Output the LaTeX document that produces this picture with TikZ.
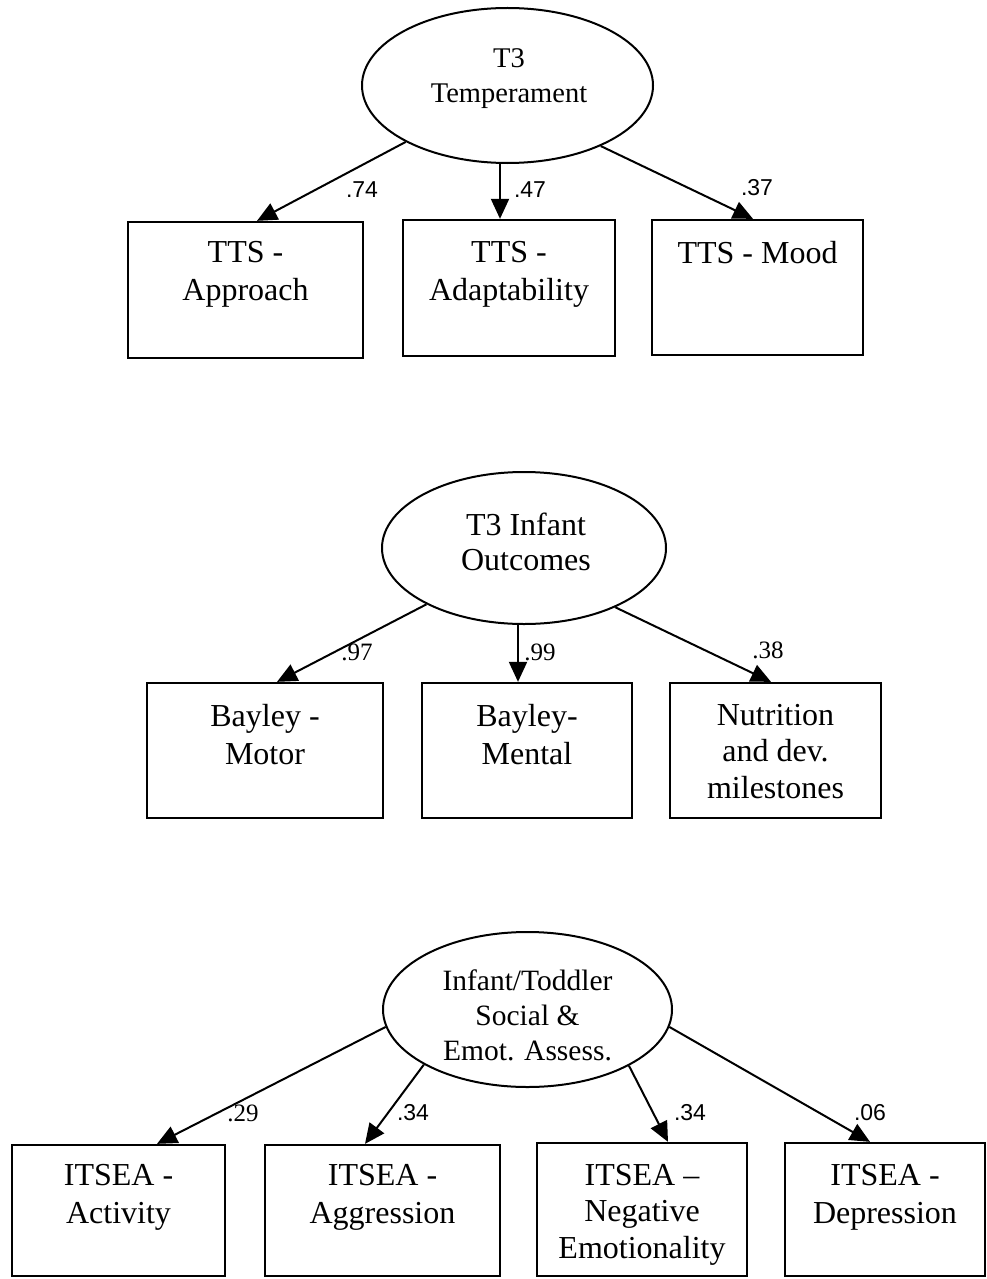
\documentclass[tikz,border=0pt]{standalone}
\usepackage{fontspec}
\setmainfont{Liberation Serif}
\newfontfamily\labsans{Liberation Sans}
\usetikzlibrary{shapes.geometric,arrows.meta}
\begin{document}
\begin{tikzpicture}[x=1pt,y=-1pt,
  ell/.style={draw, line width=2pt, ellipse, inner sep=0pt},
  boxnode/.style={draw, line width=2.3pt, rectangle, inner sep=0pt},
  btxt/.style={anchor=north, inner sep=0pt, align=center, font=\fontsize{32}{38}\selectfont},
  etxt/.style={anchor=north, inner sep=0pt, align=center, font=\fontsize{28.5}{35}\selectfont},
  arr/.style={line width=2pt, -{Triangle[length=20pt,width=18pt]}},
  coefsans/.style={inner sep=0pt, font=\fontsize{23}{26}\selectfont\labsans},
  coefserif/.style={inner sep=0pt, font=\fontsize{25}{28}\selectfont},
]
\useasboundingbox (0,0) rectangle (987,1279);
\fill[white] (0,0) rectangle (987,1279);

% ---------- Top block ----------
\node[ell, minimum width=291, minimum height=155] (e1) at (507.5,85.5) {};
\node[etxt] (e1t) at (509,48.5) {T3\\Temperament};

\node[boxnode, minimum width=235, minimum height=136] (a1) at (245.5,290) {};
\node[boxnode, minimum width=212, minimum height=136] (a2) at (509,288) {};
\node[boxnode, minimum width=211, minimum height=135] (a3) at (757.5,287.5) {};
\node[btxt] (a1t) at (245.5,241.5) {TTS -\\Approach};
\node[btxt] (a2t) at (509,241.5) {TTS -\\Adaptability};
\node[btxt] (a3t) at (757.5,241.5) {TTS - Mood};

\coordinate (ta1) at ([xshift=11.5]a1.north);
\coordinate (ta2) at ([xshift=-9]a2.north);
\coordinate (ta3) at ([xshift=-4.5]a3.north);
\draw[arr] (e1.209) -- (ta1);
\draw[arr] (e1.south -| ta2) -- (ta2);
\draw[arr] (e1.327) -- (ta3);

\node[coefsans] (c11) at (362,190) {.74};
\node[coefsans] (c12) at (530,190) {.47};
\node[coefsans] (c13) at (757,188) {.37};

% ---------- Middle block ----------
\node[ell, minimum width=284, minimum height=152] (e2) at (524,548) {};
\node[btxt] (e2t) at (526,512.5) {T3 Infant\\[-3pt]Outcomes};

\node[boxnode, minimum width=236, minimum height=135] (m1) at (265,750.5) {};
\node[boxnode, minimum width=210, minimum height=135] (m2) at (527,750.5) {};
\node[boxnode, minimum width=211, minimum height=135] (m3) at (775.5,750.5) {};
\node[btxt] (m1t) at (265,704) {Bayley -\\Motor};
\node[btxt] (m2t) at (527,704) {Bayley-\\Mental};
\node[btxt, font=\fontsize{32}{36.5}\selectfont] (m3t) at (775.5,704) {Nutrition\\and dev.\\milestones};

\coordinate (tm1) at ([xshift=12]m1.north);
\coordinate (tm2) at ([xshift=-9]m2.north);
\coordinate (tm3) at ([xshift=-4.5]m3.north);
\draw[arr] (e2.210) -- (tm1);
\draw[arr] (e2.south -| tm2) -- (tm2);
\draw[arr] (e2.327) -- (tm3);

\node[coefserif] (c21) at (357,652) {.97};
\node[coefserif] (c22) at (540,652) {.99};
\node[coefserif] (c23) at (768,650) {.38};

% ---------- Bottom block ----------
\node[ell, minimum width=289, minimum height=155] (e3) at (527.5,1009.5) {};
\node[etxt, font=\fontsize{29.5}{35}\selectfont] (e3t) at (527.5,970) {Infant/Toddler\\Social \&\\Emot. Assess.};

\node[boxnode, minimum width=213, minimum height=131] (i1) at (118.5,1210.5) {};
\node[boxnode, minimum width=235, minimum height=131] (i2) at (382.5,1210.5) {};
\node[boxnode, minimum width=210, minimum height=133] (i3) at (642,1209.5) {};
\node[boxnode, minimum width=200, minimum height=133] (i4) at (885,1209.5) {};
\node[btxt] (i1t) at (118.5,1164) {ITSEA -\\Activity};
\node[btxt] (i2t) at (382.5,1164) {ITSEA -\\Aggression};
\node[btxt, font=\fontsize{32}{36.5}\selectfont] (i3t) at (642,1164) {ITSEA --\\Negative\\Emotionality};
\node[btxt] (i4t) at (885,1164) {ITSEA -\\Depression};

\coordinate (ti1) at ([xshift=38.5]i1.north);
\coordinate (ti2) at ([xshift=-17.5]i2.north);
\coordinate (ti3) at ([xshift=26]i3.north);
\coordinate (ti4) at ([xshift=-15]i4.north);
\draw[arr] (e3.187) -- (ti1);
\draw[arr] (e3.208) -- (ti2);
\draw[arr] (e3.331) -- (ti3);
\draw[arr] (e3.353) -- (ti4);

\node[coefserif] (c31) at (243,1113) {.29};
\node[coefsans] (c32) at (413,1113) {.34};
\node[coefsans] (c33) at (690,1113) {.34};
\node[coefsans] (c34) at (870,1113) {.06};
\end{tikzpicture}
\end{document}
